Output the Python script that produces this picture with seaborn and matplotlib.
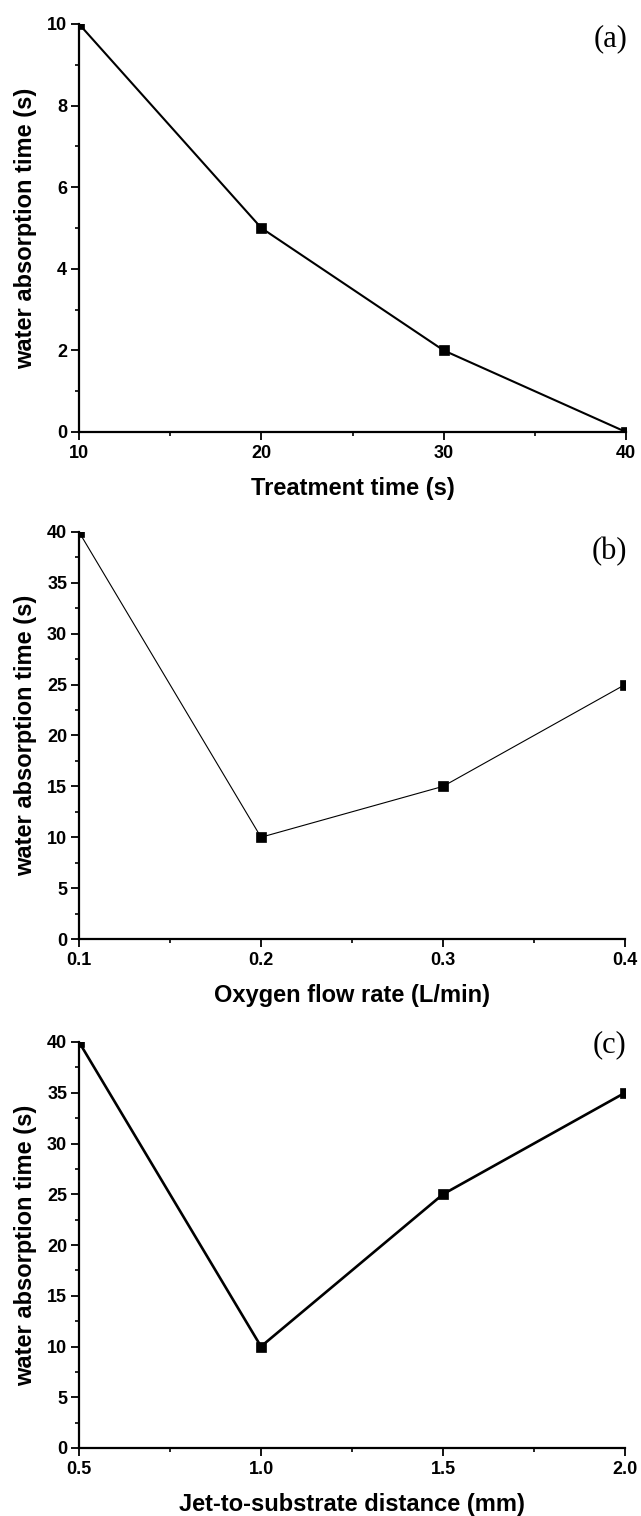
import matplotlib
matplotlib.use("Agg")
import matplotlib.pyplot as plt
import seaborn as sns
import pandas as pd
from matplotlib.ticker import MultipleLocator, FormatStrFormatter

# ---- data ----
treatment_time = [10, 20, 30, 40]
absorption_a = [10, 5, 2, 0]

oxygen_flow = [0.1, 0.2, 0.3, 0.4]
absorption_b = [40, 10, 15, 25]

jet_distance = [0.5, 1.0, 1.5, 2.0]
absorption_c = [40, 10, 25, 35]

ylabel = "water absorption time (s)"
xlabels = ["Treatment time (s)", "Oxygen flow rate (L/min)", "Jet-to-substrate distance (mm)"]
panel_tags = ["(a)", "(b)", "(c)"]

sns.set_theme(style="ticks")
plt.rcParams['font.family'] = ['Liberation Sans', 'DejaVu Sans']
plt.rcParams['font.weight'] = 'bold'
plt.rcParams['text.color'] = 'black'
plt.rcParams['axes.labelcolor'] = 'black'
plt.rcParams['xtick.color'] = 'black'
plt.rcParams['ytick.color'] = 'black'
plt.rcParams['axes.edgecolor'] = 'black'

W, H = 641, 1516
fig = plt.figure(figsize=(W / 100, H / 100), dpi=100)

# axes boxes in pixels: left, top, right, bottom
boxes = [(79, 24, 626, 432), (79, 532, 625, 939), (79, 1042, 625, 1448)]
axes = []
for (l, t, r, b) in boxes:
    axes.append(fig.add_axes([l / W, 1 - b / H, (r - l) / W, (b - t) / H]))

panels = [
    (treatment_time, absorption_a, 1.5, (10, 40), (0, 10), 10, 5, 2, 1, '%d', '%d', 0.963),
    (oxygen_flow, absorption_b, 0.8, (0.1, 0.4), (0, 40), 0.1, 0.05, 5, 2.5, '%.1f', '%d', 0.953),
    (jet_distance, absorption_c, 1.9, (0.5, 2.0), (0, 40), 0.5, 0.25, 5, 2.5, '%.1f', '%d', 0.993),
]

for i, (ax, p) in enumerate(zip(axes, panels)):
    xs, ys, lw, xlim, ylim, xmaj, xmin, ymaj, ymin, xfmt, yfmt, tag_y = p
    df = pd.DataFrame({"x": xs, "y": ys})
    sns.lineplot(data=df, x="x", y="y", ax=ax, color="black", linewidth=lw,
                 marker="s", markersize=7, markeredgecolor="black",
                 markerfacecolor="black", markeredgewidth=0.5)
    ax.set_xlim(*xlim)
    ax.set_ylim(*ylim)
    ax.xaxis.set_major_locator(MultipleLocator(xmaj))
    ax.xaxis.set_minor_locator(MultipleLocator(xmin))
    ax.yaxis.set_major_locator(MultipleLocator(ymaj))
    ax.yaxis.set_minor_locator(MultipleLocator(ymin))
    ax.xaxis.set_major_formatter(FormatStrFormatter(xfmt))
    ax.yaxis.set_major_formatter(FormatStrFormatter(yfmt))
    for s in ["top", "right"]:
        ax.spines[s].set_visible(False)
    for s in ["left", "bottom"]:
        ax.spines[s].set_linewidth(1.6)
        ax.spines[s].set_color("black")
    ax.tick_params(which="major", direction="out", length=5.5, width=1.3,
                   labelsize=13, color="black", labelcolor="black", pad=3)
    ax.tick_params(which="minor", direction="out", length=3, width=1.2, color="black")
    ax.tick_params(axis="x", which="major", pad=4)
    for lab in ax.get_xticklabels() + ax.get_yticklabels():
        lab.set_fontweight("bold")
    ax.set_xlabel(xlabels[i], fontsize=17, fontweight="bold", labelpad=11, color="black")
    ax.set_ylabel(ylabel, fontsize=17, fontweight="bold", labelpad=7, color="black")
    ax.text(1.003, tag_y, panel_tags[i], transform=ax.transAxes, ha="right",
            va="center", fontsize=22, family=["Liberation Serif", "DejaVu Serif"],
            fontweight="normal", color="black", clip_on=False)
    ax.set_facecolor("white")

fig.savefig("out.png", dpi=100, facecolor="white")
